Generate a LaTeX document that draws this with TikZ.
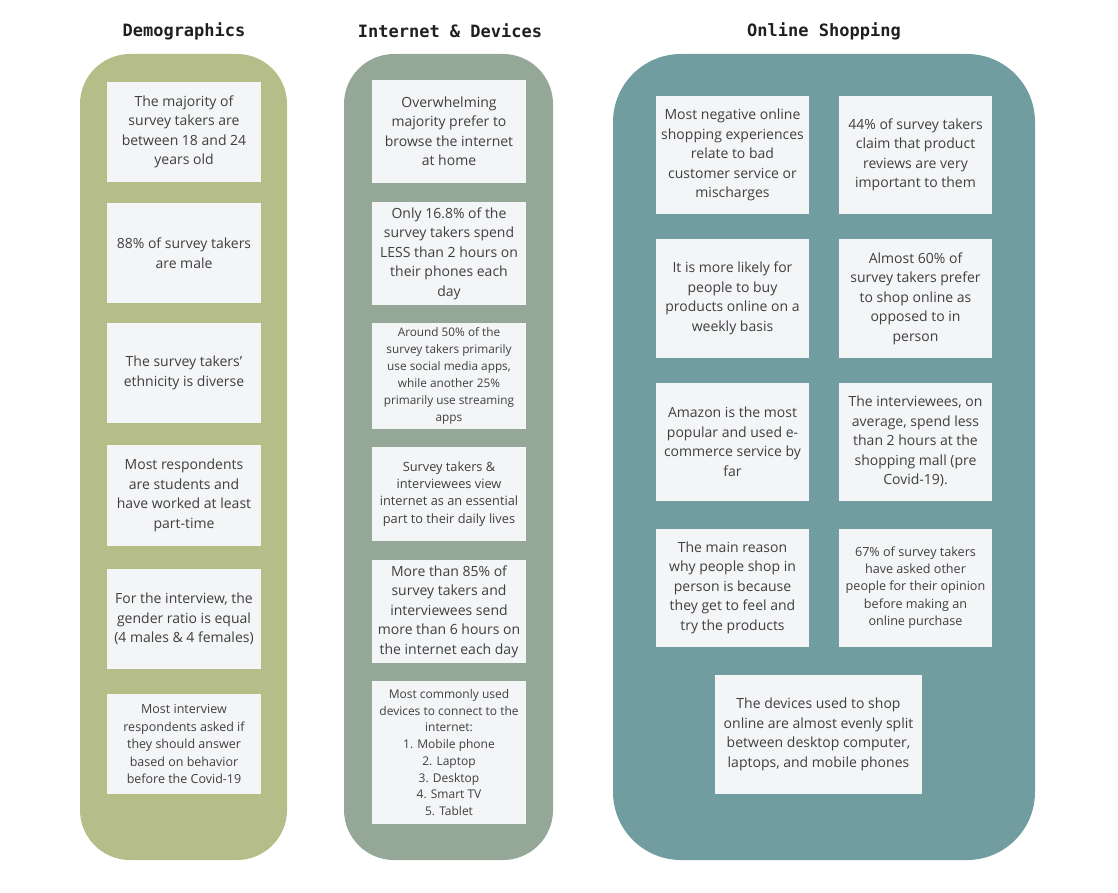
\documentclass[tikz,border=0pt]{standalone}
\usepackage{fontspec}
\setmainfont{Open Sans}
\newfontfamily\headfont{DejaVu Sans Mono}
\definecolor{demogreen}{HTML}{B5BE89}
\definecolor{netgreen}{HTML}{95A898}
\definecolor{shopteal}{HTML}{729DA0}
\definecolor{notebg}{HTML}{F4F5F7}
\definecolor{notetext}{HTML}{3F3F3F}
\tikzset{panel/.style={rounded corners=50pt},
         widepanel/.style={rounded corners=68pt},
         fact/.style={fill=notebg,text=notetext,inner sep=0pt,align=center,
                      minimum width=154pt,minimum height=100pt,
                      font=\fontsize{14}{19.5}\selectfont},
         smallfact/.style={fact,font=\fontsize{11.8}{17}\selectfont},
         tinyfact/.style={fact,font=\fontsize{12}{16.7}\selectfont},
         shopfact/.style={fact,minimum width=153pt,minimum height=118pt},
         heading/.style={font=\headfont\bfseries\fontsize{17}{20}\selectfont,text=black!88},
         }
\begin{document}
\begin{tikzpicture}[x=1pt,y=-1pt]
\useasboundingbox (0,0) rectangle (1118,893);
% column panels
\fill[panel,demogreen] (80,54) rectangle (287,860);
\fill[panel,netgreen] (344,54) rectangle (553,860);
\fill[widepanel,shopteal] (613,54) rectangle (1035,860);
% headings
\node[heading] (demotitle) at (184,31) {Demographics};
\node[heading] (nettitle) at (450,31) {Internet \& Devices};
\node[heading] (shoptitle) at (824,31) {Online Shopping};
% Demographics
\node[fact] (demo1) at (184,132) {The majority of\\survey takers are\\between 18 and 24\\years old};
\node[fact] (demo2) at (184,253) {88\% of survey takers\\are male};
\node[fact] (demo3) at (184,373) {The survey takers'\\ethnicity is diverse};
\node[fact,minimum height=101pt] (demo4) at (184,495.5) {Most respondents\\are students and\\have worked at least\\part-time};
\node[fact] (demo5) at (184,619) {For the interview, the\\gender ratio is equal\\(4 males \& 4 females)};
\node[fact,font=\fontsize{12.5}{17.5}\selectfont] (demo6) at (184,744) {Most interview\\respondents asked if\\they should answer\\based on behavior\\before the Covid-19};
% Internet & Devices
\node[fact,minimum height=103pt] (net1) at (449,131.5) {Overwhelming\\majority prefer to\\browse the internet\\at home};
\node[fact,minimum height=103pt] (net2) at (449,253.5) {Only 16.8\% of the\\survey takers spend\\LESS than 2 hours on\\their phones each\\day};
\node[smallfact,minimum height=106pt] (net3) at (449,376) {Around 50\% of the\\survey takers primarily\\use social media apps,\\while another 25\%\\primarily use streaming\\apps};
\node[smallfact,minimum height=94pt,font=\fontsize{12.8}{17.3}\selectfont] (net4) at (449,494) {Survey takers \&\\interviewees view\\internet as an essential\\part to their daily lives};
\node[fact,minimum height=103pt] (net5) at (449,611.5) {More than 85\% of\\survey takers and\\interviewees send\\more than 6 hours on\\the internet each day};
\node[tinyfact,minimum height=143pt] (net6) at (449,752.5) {Most commonly used\\devices to connect to the\\internet:\\1. Mobile phone\\2. Laptop\\3. Desktop\\4. Smart TV\\5. Tablet};
% Online Shopping
\node[shopfact] (shop1) at (732.5,155) {Most negative online\\shopping experiences\\relate to bad\\customer service or\\mischarges};
\node[shopfact] (shop2) at (915.5,155) {44\% of survey takers\\claim that product\\reviews are very\\important to them};
\node[shopfact] (shop3) at (732.5,298.5) {It is more likely for\\people to buy\\products online on a\\weekly basis};
\node[shopfact] (shop4) at (915.5,298.5) {Almost 60\% of\\survey takers prefer\\to shop online as\\opposed to in\\person};
\node[shopfact] (shop5) at (732.5,441.5) {Amazon is the most\\popular and used e-\\commerce service by\\far};
\node[shopfact] (shop6) at (915.5,441.5) {The interviewees, on\\average, spend less\\than 2 hours at the\\shopping mall (pre\\Covid-19).};
\node[shopfact] (shop7) at (732.5,587.5) {The main reason\\why people shop in\\person is because\\they get to feel and\\try the products};
\node[shopfact,font=\fontsize{12.6}{17.3}\selectfont] (shop8) at (915.5,587.5) {67\% of survey takers\\have asked other\\people for their opinion\\before making an\\online purchase};
\node[shopfact,minimum width=207pt,minimum height=119pt] (shop9) at (818.5,734.5) {The devices used to shop\\online are almost evenly split\\between desktop computer,\\laptops, and mobile phones};
\end{tikzpicture}
\end{document}
